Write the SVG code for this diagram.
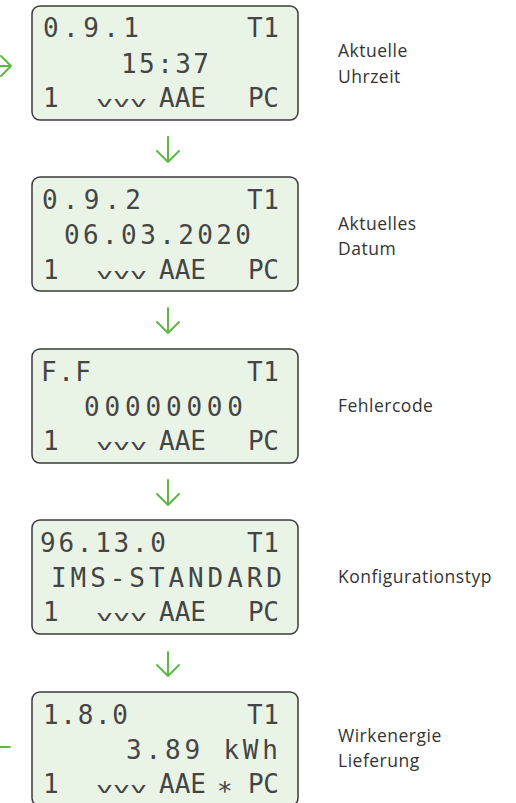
<svg xmlns="http://www.w3.org/2000/svg" width="516" height="803" viewBox="0 0 516 803">
<style>
.box{fill:#eaf4e6;stroke:#3a3a3a;stroke-width:1.5}
.lcd{font-family:"DejaVu Sans Mono","Liberation Mono",monospace;font-size:26px;fill:#454545}
.v{font-family:"DejaVu Sans Mono","Liberation Mono",monospace;font-size:14px;fill:#454545}
.lbl{font-family:"Open Sans","Noto Sans",sans-serif;font-size:17.5px;letter-spacing:0.5px;fill:#333}
.arr{fill:none;stroke:#5db946;stroke-width:2;stroke-linecap:round;stroke-linejoin:round}
</style>
<rect width="516" height="803" fill="#fff"/>
<g id="connectors">
<path class="arr" d="M0 66H11M1 56L11 66L1 76"/>
<path class="arr" d="M168 137V162M157 151L168 162L179 151"/>
<path class="arr" d="M168 308V333M157 322L168 333L179 322"/>
<path class="arr" d="M168 480V505M157 494L168 505L179 494"/>
<path class="arr" d="M168 652V676M157 665L168 676L179 665"/>
<path class="arr" d="M0 747H10" stroke-linecap="butt"/>
</g>
<g id="node1">
<rect class="box" x="32" y="6" width="266" height="114" rx="8"/>
<text class="lcd" x="43" y="37" textLength="96" lengthAdjust="spacing">0.9.1</text>
<text class="lcd" x="247" y="37" textLength="32" lengthAdjust="spacing">T1</text>
<text class="lcd" x="121" y="73" textLength="88" lengthAdjust="spacing">15:37</text>
<text class="lcd" x="43" y="107">1</text>
<text class="v" x="96" y="107" textLength="51" lengthAdjust="spacingAndGlyphs">vvv</text>
<text class="lcd" x="159" y="107" textLength="47" lengthAdjust="spacing">AAE</text>
<text class="lcd" x="248" y="107" textLength="31" lengthAdjust="spacing">PC</text>
<text class="lbl" x="338" y="57">Aktuelle</text>
<text class="lbl" x="338" y="83">Uhrzeit</text>
</g>
<g id="node2">
<rect class="box" x="32" y="177" width="266" height="114" rx="8"/>
<text class="lcd" x="42" y="209" textLength="99" lengthAdjust="spacing">0.9.2</text>
<text class="lcd" x="247" y="209" textLength="32" lengthAdjust="spacing">T1</text>
<text class="lcd" x="64" y="244" textLength="187" lengthAdjust="spacing">06.03.2020</text>
<text class="lcd" x="43" y="279">1</text>
<text class="v" x="96" y="279" textLength="51" lengthAdjust="spacingAndGlyphs">vvv</text>
<text class="lcd" x="159" y="279" textLength="47" lengthAdjust="spacing">AAE</text>
<text class="lcd" x="248" y="279" textLength="31" lengthAdjust="spacing">PC</text>
<text class="lbl" x="338" y="230">Aktuelles</text>
<text class="lbl" x="338" y="255">Datum</text>
</g>
<g id="node3">
<rect class="box" x="32" y="349" width="266" height="114" rx="8"/>
<text class="lcd" x="41" y="381" textLength="50" lengthAdjust="spacing">F.F</text>
<text class="lcd" x="247" y="381" textLength="32" lengthAdjust="spacing">T1</text>
<text class="lcd" x="84" y="416" textLength="159" lengthAdjust="spacing">00000000</text>
<text class="lcd" x="43" y="450">1</text>
<text class="v" x="96" y="450" textLength="51" lengthAdjust="spacingAndGlyphs">vvv</text>
<text class="lcd" x="159" y="450" textLength="47" lengthAdjust="spacing">AAE</text>
<text class="lcd" x="248" y="450" textLength="31" lengthAdjust="spacing">PC</text>
<text class="lbl" x="338" y="412">Fehlercode</text>
</g>
<g id="node4">
<rect class="box" x="32" y="520" width="266" height="114" rx="8"/>
<text class="lcd" x="40" y="552" textLength="126" lengthAdjust="spacing">96.13.0</text>
<text class="lcd" x="247" y="552" textLength="32" lengthAdjust="spacing">T1</text>
<text class="lcd" x="51" y="587" textLength="231" lengthAdjust="spacing">IMS-STANDARD</text>
<text class="lcd" x="43" y="621">1</text>
<text class="v" x="96" y="621" textLength="51" lengthAdjust="spacingAndGlyphs">vvv</text>
<text class="lcd" x="159" y="621" textLength="47" lengthAdjust="spacing">AAE</text>
<text class="lcd" x="248" y="621" textLength="31" lengthAdjust="spacing">PC</text>
<text class="lbl" x="338" y="583">Konfigurationstyp</text>
</g>
<g id="node5">
<rect class="box" x="32" y="692" width="266" height="114" rx="8"/>
<text class="lcd" x="43" y="724" textLength="85" lengthAdjust="spacing">1.8.0</text>
<text class="lcd" x="247" y="724" textLength="32" lengthAdjust="spacing">T1</text>
<text class="lcd" x="126" y="759" textLength="152" lengthAdjust="spacing">3.89 kWh</text>
<text class="lcd" x="43" y="793">1</text>
<text class="v" x="96" y="793" textLength="51" lengthAdjust="spacingAndGlyphs">vvv</text>
<text class="lcd" x="159" y="793" textLength="47" lengthAdjust="spacing">AAE</text>
<text class="lcd" x="217" y="795">∗</text>
<text class="lcd" x="248" y="793" textLength="31" lengthAdjust="spacing">PC</text>
<text class="lbl" x="338" y="742">Wirkenergie</text>
<text class="lbl" x="338" y="767">Lieferung</text>
</g>
</svg>
